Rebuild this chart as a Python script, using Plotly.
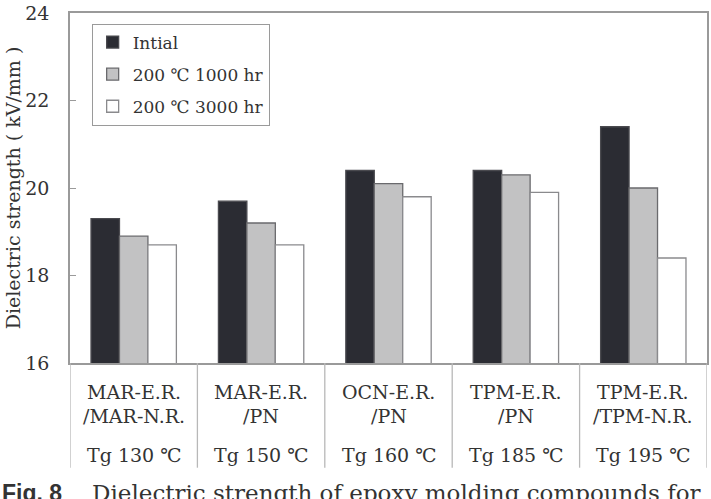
import plotly.graph_objects as go

# ---- data ----
cat_line1 = ["MAR-E.R.", "MAR-E.R.", "OCN-E.R.", "TPM-E.R.", "TPM-E.R."]
cat_line2 = ["/MAR-N.R.", "/PN", "/PN", "/PN", "/TPM-N.R."]
cat_tg = ["Tg 130 ℃", "Tg 150 ℃", "Tg 160 ℃", "Tg 185 ℃", "Tg 195 ℃"]
categories = [a + " " + b for a, b in zip(cat_line1, cat_line2)]

series_names = ["Intial", "200 ℃ 1000 hr", "200 ℃ 3000 hr"]
initial = [19.3, 19.7, 20.4, 20.4, 21.4]
aged_1000 = [18.9, 19.2, 20.1, 20.3, 20.0]
aged_3000 = [18.7, 18.7, 19.8, 19.9, 18.4]
y_ticks = [16, 18, 20, 22, 24]

SERIF = "'DejaVu Serif', 'Liberation Serif', serif"
fills = ["#2b2c33", "#c2c2c3", "#ffffff"]
edges = ["#4a4a4f", "#6a6a6d", "#8a8a8d"]

fig = go.Figure()
for i, (name, vals) in enumerate(zip(series_names, [initial, aged_1000, aged_3000])):
    fig.add_trace(go.Bar(
        x=categories, y=vals, name=name,
        base=0,
        marker=dict(color=fills[i], line=dict(color=edges[i], width=1.3)),
        legendgroup=f"g{i}",
    ))

fig.update_layout(
    width=711, height=499,
    margin=dict(l=70, r=2, t=12, b=136),
    paper_bgcolor="white", plot_bgcolor="white",
    barmode="group", bargap=0.33, bargroupgap=0,
    font=dict(family=SERIF, color="#333333"),
    showlegend=True,
    legend=dict(
        x=0.034, y=0.97, xanchor="left", yanchor="top",
        bordercolor="#9a9a9a", borderwidth=1, bgcolor="white",
        font=dict(family=SERIF, size=17, color="#333333"),
        traceorder="grouped", tracegroupgap=7,
        itemwidth=30,
    ),
    xaxis=dict(
        type="category", range=[-0.5, 4.5],
        showticklabels=False, ticks="",
        showline=True, linecolor="#9a9a9a", linewidth=1.5, mirror=True,
        showgrid=False, zeroline=False,
    ),
    yaxis=dict(
        range=[16, 24], tickvals=y_ticks,
        ticks="inside", ticklen=6, tickcolor="#9a9a9a",
        showline=True, linecolor="#9a9a9a", linewidth=1.5, mirror=True,
        showgrid=False, zeroline=False,
        tickfont=dict(family=SERIF, size=19, color="#333333"),
        ticklabelstandoff=15,
        title=dict(text="Dielectric strength ( kV/mm )",
                   font=dict(family=SERIF, size=19, color="#333333"),
                   standoff=0),
    ),
)

# category table below the plot
table_bottom = -105 / 351
for k in range(len(categories) + 1):
    fig.add_shape(type="line", xref="x", yref="paper",
                  x0=k - 0.5, x1=k - 0.5, y0=0, y1=table_bottom,
                  line=dict(color="#b8b8b8", width=1.3))

for k, cat in enumerate(categories):
    for txt, shift in [(cat_line1[k], -29), (cat_line2[k], -53), (cat_tg[k], -92)]:
        fig.add_annotation(x=cat, xref="x", y=0, yref="paper",
                           text=txt, showarrow=False, yanchor="middle",
                           yshift=shift,
                           font=dict(family=SERIF, size=19, color="#333333"))

# caption (cut off at bottom of page as in reference)
fig.add_annotation(x=-70 / 639, xref="paper", y=(363 - 478) / 351, yref="paper",
                   text="<b>Fig. 8</b>", showarrow=False, xanchor="left", yanchor="top",
                   font=dict(family="Liberation Sans", size=23, color="#333333"))
fig.add_annotation(x=(90 - 70) / 639, xref="paper", y=(363 - 478) / 351, yref="paper",
                   text="Dielectric strength of epoxy molding compounds for",
                   showarrow=False, xanchor="left", yanchor="top",
                   font=dict(family=SERIF, size=23, color="#333333"))

fig.write_html("out.html")
